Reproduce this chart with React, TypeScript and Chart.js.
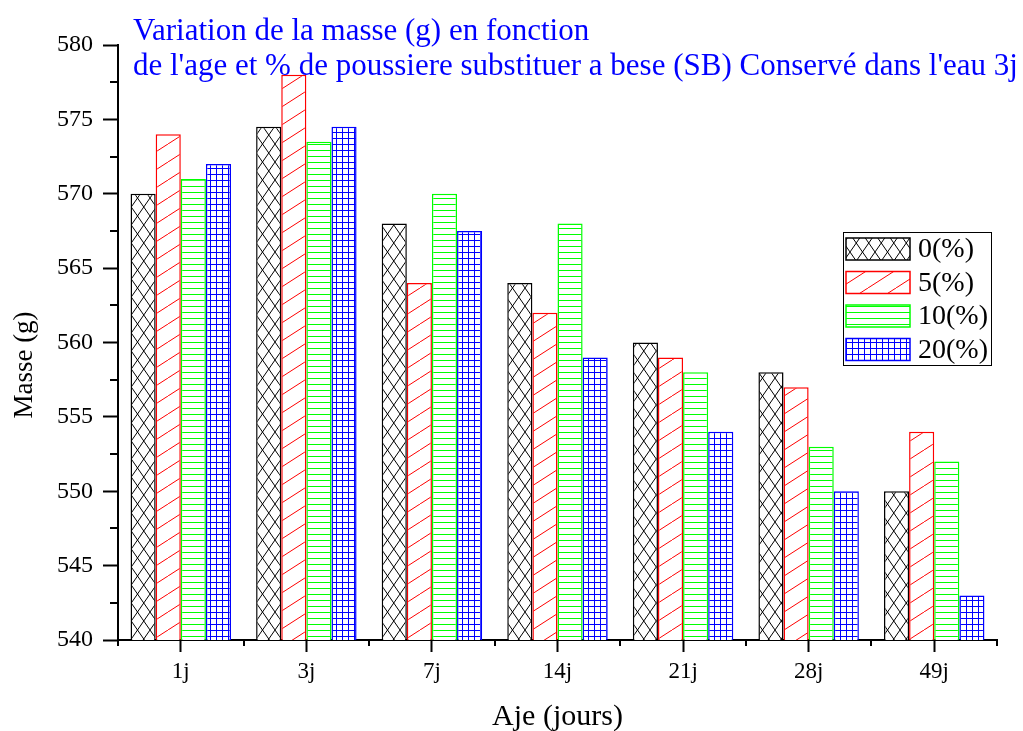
import { useEffect, useRef } from 'react';
import { Chart, registerables } from 'chart.js';

Chart.register(...registerables);

const categories = ['1j', '3j', '7j', '14j', '21j', '28j', '49j'];
const seriesLabels = ['0(%)', '5(%)', '10(%)', '20(%)'];
const values0 = [570, 574.5, 568, 564, 560, 558, 550];
const values5 = [574, 578, 564, 562, 559, 557, 554];
const values10 = [571, 573.5, 570, 568, 558, 553, 552];
const values20 = [572, 574.5, 567.5, 559, 554, 550, 543];
const yMin = 540;
const yMax = 580;
const yStep = 5;
const titleLines = [
  'Variation de la masse (g) en fonction',
  "de l'age et % de poussiere substituer a bese (SB) Conservé dans l'eau 3j",
];
const xTitle = 'Aje (jours)';
const yTitle = 'Masse (g)';

const FONT = "'Liberation Serif', 'Times New Roman', serif";

function makePattern(kind: string, color: string): CanvasPattern | string {
  const c = document.createElement('canvas');
  let w = 6, h = 6;
  if (kind === 'cross') { w = 25; h = 18; }
  if (kind === 'diag') { w = 28; h = 18; }
  c.width = w; c.height = h;
  const g = c.getContext('2d');
  if (!g) return color;
  g.fillStyle = '#ffffff';
  g.fillRect(0, 0, w, h);
  g.strokeStyle = color;
  g.lineWidth = 1;
  g.beginPath();
  if (kind === 'cross') {
    g.moveTo(0, 0); g.lineTo(w / 2, h);
    g.moveTo(w / 2, 0); g.lineTo(w, h);
    g.moveTo(w / 2, 0); g.lineTo(0, h);
    g.moveTo(w, 0); g.lineTo(w / 2, h);
  } else if (kind === 'diag') {
    g.moveTo(0, h); g.lineTo(w, 0);
    g.moveTo(-w, h); g.lineTo(0, 0);
    g.moveTo(w, h); g.lineTo(2 * w, 0);
  } else if (kind === 'horiz') {
    g.moveTo(0, 0.5); g.lineTo(w, 0.5);
  } else if (kind === 'grid') {
    g.moveTo(0, 0.5); g.lineTo(w, 0.5);
    g.moveTo(0.5, 0); g.lineTo(0.5, h);
  }
  g.stroke();
  const p = g.createPattern(c, 'repeat');
  return p || color;
}

const minorTicksPlugin = {
  id: 'minorTicks',
  afterDraw(chart: any) {
    const { ctx } = chart;
    const xs = chart.scales.x;
    const ys = chart.scales.y;
    ctx.save();
    ctx.strokeStyle = '#000';
    ctx.lineWidth = 2;
    ctx.beginPath();
    for (let i = 0; i <= categories.length; i++) {
      const px = Math.round(xs.getPixelForValue(i - 0.5));
      ctx.moveTo(px, xs.top);
      ctx.lineTo(px, xs.top + 6);
    }
    for (let v = yMin + yStep / 2; v < yMax; v += yStep) {
      const py = Math.round(ys.getPixelForValue(v));
      ctx.moveTo(ys.right, py);
      ctx.lineTo(ys.right - 8, py);
    }
    ctx.stroke();
    ctx.restore();
  },
};

const textPlugin = {
  id: 'texts',
  afterDraw(chart: any) {
    const { ctx } = chart;
    ctx.save();
    // title
    ctx.fillStyle = '#0000ff';
    ctx.font = `31px ${FONT}`;
    ctx.textAlign = 'left';
    ctx.textBaseline = 'alphabetic';
    ctx.fillText(titleLines[0], 133, 40);
    ctx.fillText(titleLines[1], 133, 75);
    // axis titles
    ctx.fillStyle = '#000';
    ctx.font = `30px ${FONT}`;
    ctx.textAlign = 'center';
    const xs = chart.scales.x;
    ctx.fillText(xTitle, (xs.left + xs.right) / 2, 725);
    ctx.save();
    ctx.translate(32, 365);
    ctx.rotate(-Math.PI / 2);
    ctx.font = `27px ${FONT}`;
    ctx.fillText(yTitle, 0, 0);
    ctx.restore();
    // legend
    const lx = 843.5, ly = 232.5;
    ctx.strokeStyle = '#000';
    ctx.lineWidth = 1;
    ctx.strokeRect(lx, ly, 148, 133);
    ctx.font = `28px ${FONT}`;
    ctx.textAlign = 'left';
    ctx.textBaseline = 'middle';
    chart.data.datasets.forEach((ds: any, i: number) => {
      const y0 = 238 + i * 33.5;
      ctx.fillStyle = ds.backgroundColor;
      ctx.fillRect(846, y0, 64, 22);
      ctx.strokeStyle = ds.borderColor;
      ctx.lineWidth = 1.5;
      ctx.strokeRect(846, y0, 64, 22);
      ctx.fillStyle = '#000';
      ctx.fillText(ds.label, 918, y0 + 12);
    });
    ctx.restore();
  },
};

export default function App() {
  const ref = useRef<HTMLCanvasElement | null>(null);
  useEffect(() => {
    if (!ref.current) return;
    const kinds = ['cross', 'diag', 'horiz', 'grid'];
    const colors = ['#000000', '#ff0000', '#00ff00', '#0000ff'];
    const seriesValues = [values0, values5, values10, values20];
    const chart = new Chart(ref.current, {
      type: 'bar',
      data: {
        labels: categories,
        datasets: seriesValues.map((vals, i) => ({
          label: seriesLabels[i],
          data: vals,
          backgroundColor: makePattern(kinds[i], colors[i]) as any,
          borderColor: colors[i],
          borderWidth: 1.5,
          borderSkipped: false,
          categoryPercentage: 0.8,
          barPercentage: 1.0,
        })),
      },
      options: {
        responsive: false,
        animation: false,
        layout: { padding: { top: 45, right: 26, left: 0, bottom: 0 } },
        plugins: {
          legend: { display: false },
          title: { display: false },
          tooltip: { enabled: false },
        },
        scales: {
          x: {
            type: 'category',
            afterFit: (s: any) => { s.height = 91; },
            grid: {
              display: true,
              drawOnChartArea: false,
              drawTicks: true,
              tickLength: 12,
              tickWidth: 2,
              tickColor: '#000',
              offset: false,
            },
            border: { display: true, color: '#000', width: 2 },
            ticks: { color: '#000', font: { family: FONT, size: 23 }, padding: 6 },
          },
          y: {
            min: yMin,
            max: yMax,
            afterFit: (s: any) => { s.width = 118; },
            grid: {
              display: true,
              drawOnChartArea: false,
              drawTicks: true,
              tickLength: 15,
              tickWidth: 2,
              tickColor: '#000',
            },
            border: { display: true, color: '#000', width: 2 },
            ticks: { stepSize: yStep, color: '#000', font: { family: FONT, size: 24 }, padding: 10 },
          },
        },
      } as any,
      plugins: [minorTicksPlugin, textPlugin],
    });
    return () => chart.destroy();
  }, []);
  return (
    <div style={{ position: 'absolute', left: 0, top: 0, width: 1023, height: 731, background: '#fff' }}>
      <canvas ref={ref} width={1023} height={731} style={{ display: 'block' }} />
    </div>
  );
}
